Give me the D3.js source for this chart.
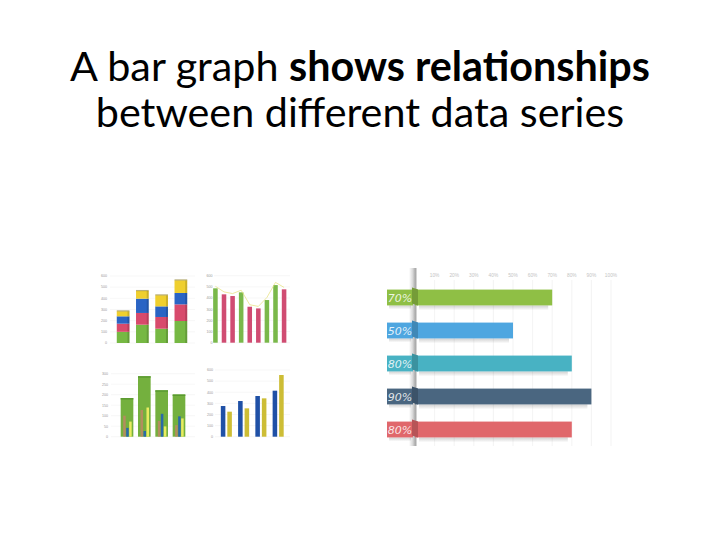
<!DOCTYPE html>
<html><head><meta charset="utf-8">
<script src="https://cdn.jsdelivr.net/npm/d3@7"></script>
<style>html,body{margin:0;padding:0;background:#fff;}svg{display:block;}</style>
</head><body>
<svg id="c" width="720" height="540"></svg>
<script>
// ---------- DATA ----------
const titleLine1 = ["A bar graph ", "shows relationships"];
const titleLine2 = "between different data series";

// chart 1: stacked bars
const stackCats = ["A","B","C","D"];
const stackGreen = [100,164,128,197];
const stackPink = [73,105,105,149];
const stackBlue = [66,128,95,102];
const stackYellow = [45,69,99,113];
const ticks600 = [0,100,200,300,400,500,600];

// chart 2: bars + line
const barCats2 = ["1","2","3","4","5","6","7","8","9"];
const barVals2 = [487,433,418,451,322,307,382,516,478];
const barKinds2 = ["g","p","p","g","p","p","g","g","p"];
const lineVals2 = [505,455,440,470,340,325,405,540,495];

// chart 3: overlapping bars
const overCats = ["A","B","C","D"];
const overBig = [184,288,221,201];
const overPink = [100,127,75,55];
const overBlue = [42,27,109,97];
const overYellow = [72,139,49,87];
const ticks300 = [0,50,100,150,200,250,300];

// chart 4: grouped bars
const groupCats = ["A","B","C","D"];
const groupBlue = [276,321,366,414];
const groupYellow = [225,255,345,555];

// horizontal percentage bars
const hCats = ["a","b","c","d","e"];
const hVals = [70,50,80,90,80];
const hLabels = ["70%","50%","80%","90%","80%"];
const hColors = ["#8fbf45","#4ea6e0","#48b2c3","#4a6680","#e0676b"];
const hTicks = [10,20,30,40,50,60,70,80,90,100];

// ---------- DRAW ----------
const svg = d3.select("#c");

// Title
const FONT = "Lato, 'Open Sans', sans-serif";
const t1 = svg.append("text").attr("x",360).attr("y",81).attr("text-anchor","middle")
  .attr("font-family",FONT).attr("fill","#000");
t1.append("tspan").text(titleLine1[0]);
t1.append("tspan").attr("font-weight","bold").text(titleLine1[1]);
const t2 = svg.append("text").attr("x",360).attr("y",127).attr("text-anchor","middle")
  .attr("font-family",FONT).attr("fill","#000").text(titleLine2);
t1.attr("font-size",36); t2.attr("font-size",36);
const w1 = t1.node().getComputedTextLength();
const fs = 36*580/w1;
t1.attr("font-size",fs); t2.attr("font-size",fs);

const labelStyle = sel => sel.attr("font-family","Liberation Sans, sans-serif").attr("font-size",3.6).attr("fill","#999");

function yAxisSmall(g, y, ticks, xLabel, x0, x1){
  g.selectAll(".gl").data(ticks).join("line")
    .attr("x1",x0).attr("x2",x1).attr("y1",d=>y(d)).attr("y2",d=>y(d))
    .attr("stroke","#eeeeee").attr("stroke-width",0.5);
  g.selectAll(".tl").data(ticks).join("text")
    .attr("x",xLabel).attr("y",d=>y(d)+1.3).attr("text-anchor","end")
    .text(d=>d).call(labelStyle);
}

// Chart 1: stacked
{
  const g = svg.append("g");
  const y = d3.scaleLinear().domain([0,600]).range([343,276]);
  const x = d3.scaleBand().domain(stackCats).range([111,193]).paddingInner(0.34).paddingOuter(0.3);
  yAxisSmall(g,y,ticks600,107,110,195);
  const rows = stackCats.map((c,i)=>({cat:c,green:stackGreen[i],pink:stackPink[i],blue:stackBlue[i],yellow:stackYellow[i]}));
  const keys = ["green","pink","blue","yellow"];
  const cols = {green:"#76b843",pink:"#d84a6c",blue:"#2a64c4",yellow:"#efcf2e"};
  const st = d3.stack().keys(keys)(rows);
  st.forEach(s=>{
    g.selectAll(null).data(s).join("rect")
      .attr("x",d=>x(d.data.cat)).attr("width",x.bandwidth())
      .attr("y",d=>y(d[1])).attr("height",d=>y(d[0])-y(d[1]))
      .attr("fill",cols[s.key]);
    // darker side for 3D feel
    g.selectAll(null).data(s).join("rect")
      .attr("x",d=>x(d.data.cat)+x.bandwidth()-2).attr("width",2)
      .attr("y",d=>y(d[1])).attr("height",d=>y(d[0])-y(d[1]))
      .attr("fill","#000").attr("opacity",0.15);
  });
  // top cap
  g.selectAll(".cap").data(rows).join("rect")
    .attr("x",d=>x(d.cat)).attr("width",x.bandwidth())
    .attr("y",d=>y(d.green+d.pink+d.blue+d.yellow)-1).attr("height",1.2)
    .attr("fill","#8a7a20").attr("opacity",0.6);
}

// Chart 2: bars + line
{
  const g = svg.append("g");
  const y = d3.scaleLinear().domain([0,600]).range([342.7,275.7]);
  const x = d3.scaleBand().domain(barCats2).range([211,288.5]).paddingInner(0.47).paddingOuter(0.25);
  yAxisSmall(g,y,ticks600,212.5,214,290);
  g.selectAll(".b").data(barCats2).join("rect")
    .attr("x",d=>x(d)).attr("width",x.bandwidth())
    .attr("y",(d,i)=>y(barVals2[i])).attr("height",(d,i)=>y(0)-y(barVals2[i]))
    .attr("fill",(d,i)=>barKinds2[i]==="g"?"#7ab84a":"#d04c72");
  const line = d3.line().x((d,i)=>x(barCats2[i])+x.bandwidth()/2).y(d=>y(d)).curve(d3.curveLinear);
  g.append("path").datum(lineVals2).attr("d",line)
    .attr("fill","none").attr("stroke","#e6e07a").attr("stroke-width",0.8).attr("opacity",0.9);
}

// Chart 3: overlapping
{
  const g = svg.append("g");
  const y = d3.scaleLinear().domain([0,300]).range([436.7,373.7]);
  const x = d3.scaleBand().domain(overCats).range([116,190]).paddingInner(0.27).paddingOuter(0.27);
  yAxisSmall(g,y,ticks300,108,111,195);
  g.selectAll(".big").data(overCats).join("rect")
    .attr("x",d=>x(d)).attr("width",x.bandwidth())
    .attr("y",(d,i)=>y(overBig[i])).attr("height",(d,i)=>y(0)-y(overBig[i]))
    .attr("fill","#74b03e");
  g.selectAll(".bigtop").data(overCats).join("rect")
    .attr("x",d=>x(d)).attr("width",x.bandwidth())
    .attr("y",(d,i)=>y(overBig[i])).attr("height",1.5)
    .attr("fill","#5a9a30");
  const sub = d3.scaleBand().domain(["p","b","y"]).range([2.5,11]).paddingInner(0.15);
  const subData = [["p",overPink,"#c8826a",0.75],["b",overBlue,"#2a6aa8",1],["y",overYellow,"#e8ec60",1]];
  subData.forEach(([k,vals,col,op])=>{
    g.selectAll(null).data(overCats).join("rect")
      .attr("x",d=>x(d)+sub(k)).attr("width",sub.bandwidth())
      .attr("y",(d,i)=>y(vals[i])).attr("height",(d,i)=>y(0)-y(vals[i]))
      .attr("fill",col).attr("opacity",op);
  });
}

// Chart 4: grouped
{
  const g = svg.append("g");
  const y = d3.scaleLinear().domain([0,600]).range([436.7,370]);
  const x = d3.scaleBand().domain(groupCats).range([216.5,288]).paddingInner(0.36).paddingOuter(0.25);
  yAxisSmall(g,y,ticks600,213,215,290);
  const sub = d3.scaleBand().domain(["b","y"]).range([0,x.bandwidth()]).paddingInner(0.3);
  [["b",groupBlue,"#1f50a6"],["y",groupYellow,"#cdbd35"]].forEach(([k,vals,col])=>{
    g.selectAll(null).data(groupCats).join("rect")
      .attr("x",d=>x(d)+sub(k)).attr("width",sub.bandwidth())
      .attr("y",(d,i)=>y(vals[i])).attr("height",(d,i)=>y(0)-y(vals[i]))
      .attr("fill",col);
  });
}

// Horizontal percentage bars
{
  const g = svg.append("g");
  const x = d3.scaleLinear().domain([0,100]).range([415,611]);
  const y = d3.scaleBand().domain(hCats).range([281,446]).paddingInner(0.52).paddingOuter(0.26);
  const defs = svg.append("defs");
  const grad = defs.append("linearGradient").attr("id","pillar").attr("x1","0").attr("x2","1");
  grad.append("stop").attr("offset","0").attr("stop-color","#ffffff");
  grad.append("stop").attr("offset","0.45").attr("stop-color","#d9d9d9");
  grad.append("stop").attr("offset","0.8").attr("stop-color","#a8a8a8");
  grad.append("stop").attr("offset","1").attr("stop-color","#e8e8e8");
  const sh = defs.append("linearGradient").attr("id","shadow").attr("x1","0").attr("x2","0").attr("y1","0").attr("y2","1");
  sh.append("stop").attr("offset","0").attr("stop-color","#000").attr("stop-opacity",0.18);
  sh.append("stop").attr("offset","1").attr("stop-color","#000").attr("stop-opacity",0);

  g.selectAll(".vg").data(hTicks).join("line")
    .attr("x1",d=>x(d)).attr("x2",d=>x(d)).attr("y1",280).attr("y2",446)
    .attr("stroke","#f0f0f0").attr("stroke-width",0.8);
  g.selectAll(".vt").data(hTicks).join("text")
    .attr("x",d=>x(d)).attr("y",277).attr("text-anchor","middle")
    .attr("font-family","Liberation Sans, sans-serif").attr("font-size",4.8).attr("fill","#c4c4c4")
    .text(d=>d+"%");

  // pillar
  g.append("rect").attr("x",409).attr("y",268).attr("width",8).attr("height",178)
    .attr("fill","url(#pillar)");

  // shadows below bars
  g.selectAll(".sh").data(hCats).join("rect")
    .attr("x",x(0)+4).attr("width",(d,i)=>x(hVals[i])-x(0)-8)
    .attr("y",d=>y(d)+y.bandwidth()).attr("height",5)
    .attr("fill","url(#shadow)");
  g.selectAll(".lsh").data(hCats).join("rect")
    .attr("x",389).attr("width",22)
    .attr("y",d=>y(d)+y.bandwidth()).attr("height",4)
    .attr("fill","url(#shadow)");

  // label boxes
  g.selectAll(".lb").data(hCats).join("rect")
    .attr("x",387).attr("width",26)
    .attr("y",d=>y(d)).attr("height",y.bandwidth())
    .attr("fill",(d,i)=>hColors[i]);
  // bars
  g.selectAll(".hb").data(hCats).join("rect")
    .attr("x",x(0)).attr("width",(d,i)=>x(hVals[i])-x(0))
    .attr("y",d=>y(d)).attr("height",y.bandwidth())
    .attr("fill",(d,i)=>hColors[i]);
  // fold near pillar
  g.selectAll(".fold").data(hCats).join("path")
    .attr("d",d=>`M${x(0)-3},${y(d)-2} L${x(0)+3},${y(d)} L${x(0)+3},${y(d)+y.bandwidth()} L${x(0)-3},${y(d)+y.bandwidth()-2} Z`)
    .attr("fill",(d,i)=>hColors[i]).attr("stroke","#000").attr("stroke-opacity",0.0);
  g.selectAll(".fold2").data(hCats).join("path")
    .attr("d",d=>`M${x(0)-3},${y(d)-2} L${x(0)+3},${y(d)} L${x(0)+3},${y(d)+y.bandwidth()} L${x(0)-3},${y(d)+y.bandwidth()-2} Z`)
    .attr("fill","#000").attr("opacity",0.18);
  // labels
  g.selectAll(".lt").data(hCats).join("text")
    .attr("x",400).attr("y",d=>y(d)+y.bandwidth()/2+4)
    .attr("text-anchor","middle")
    .attr("font-family","'DejaVu Sans', sans-serif").attr("font-size",11).attr("font-style","italic")
    .attr("font-weight",300).attr("fill","#ffffff").attr("fill-opacity",0.85)
    .text((d,i)=>hLabels[i]);
}
</script>
</body></html>
